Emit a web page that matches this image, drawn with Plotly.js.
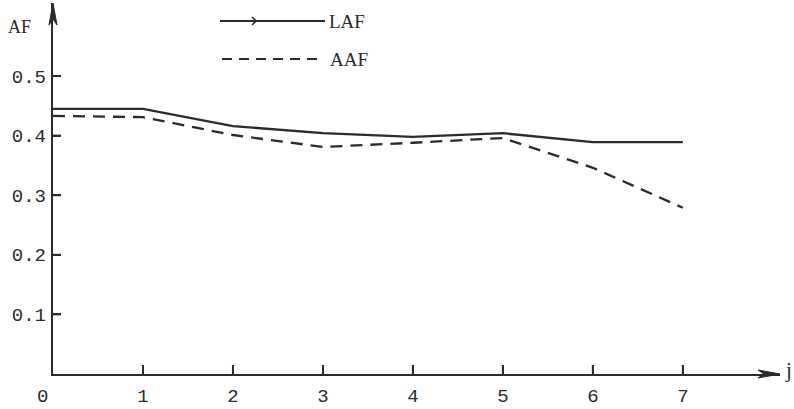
<!DOCTYPE html>
<html>
<head>
<meta charset="utf-8">
<script src="https://cdn.plot.ly/plotly-3.0.1.min.js"></script>
<style>html,body{margin:0;padding:0;background:#fff;}#chart{width:794px;height:409px;}</style>
</head>
<body>
<div id="chart"></div>
<script>
// ---- data ----
const jValues = [0, 1, 2, 3, 4, 5, 6, 7];
const lafValues = [0.445, 0.445, 0.416, 0.404, 0.398, 0.404, 0.389, 0.389];
const aafValues = [0.433, 0.431, 0.401, 0.381, 0.388, 0.396, 0.346, 0.279];
const xTickVals = [1, 2, 3, 4, 5, 6, 7];
const xTickText = ['1', '2', '3', '4', '5', '6', '7'];
const yTickVals = [0.1, 0.2, 0.3, 0.4, 0.5];
const yTickText = ['0.1', '0.2', '0.3', '0.4', '0.5'];
const seriesNames = ['LAF', 'AAF'];
const yAxisLabel = 'AF';
const xAxisLabel = 'j';
const originLabel = '0';

const INK = '#2b2b2b';
const MONO = '"Liberation Mono", "DejaVu Sans Mono", monospace';
const SERIF = '"Liberation Serif", "DejaVu Serif", serif';
const XMAX = 8.08, YMAX = 0.6225;

const traces = [
  {x: jValues, y: lafValues, name: seriesNames[0], mode: 'lines',
   line: {color: INK, width: 2.3}},
  {x: jValues, y: aafValues, name: seriesNames[1], mode: 'lines',
   line: {color: INK, width: 2.3, dash: '12px,8px'}}
];

// decorations positioned in pixels from the plot-area corners (paper refs are not clipped)
function pixPath(ax, ay, path, opts) {
  return Object.assign({type: 'path', xref: 'paper', yref: 'paper', xsizemode: 'pixel', ysizemode: 'pixel',
          xanchor: ax, yanchor: ay, path: path,
          line: {color: INK, width: 2.2}, fillcolor: 'rgba(0,0,0,0)'}, opts || {});
}

// tick marks placed at the tick values through the axes
const xTickShapes = xTickVals.map(v => ({type: 'line', xref: 'x', yref: 'paper', ysizemode: 'pixel',
  yanchor: 0, x0: v, x1: v, y0: 0, y1: 9, line: {color: INK, width: 2}}));
const yTickShapes = yTickVals.map(v => ({type: 'line', xref: 'paper', yref: 'y', xsizemode: 'pixel',
  xanchor: 0, y0: v, y1: v, x0: 0, x1: 8, line: {color: INK, width: 2}}));

const shapes = xTickShapes.concat(yTickShapes, [
  pixPath(1, 0, 'M 0 0 L -22 4 L -16 0 L -22 -4 Z', {line: {color: INK, width: 1}, fillcolor: INK}),
  pixPath(0, 1, 'M 0 0 L -4 -22 L 0 -16 L 4 -22 Z', {line: {color: INK, width: 1}, fillcolor: INK}),
  pixPath(0, 0, 'M 167 353 L 272 353'),
  pixPath(0, 0, 'M 199 357 L 203 353 L 199 349', {line: {color: INK, width: 1.6}}),
  pixPath(0, 0, 'M 169 315 L 267 315', {line: {color: INK, width: 2.2, dash: '10px,7px'}})
]);

const annotations = [
  {x: 0, y: 0, xref: 'x', yref: 'y', text: originLabel, showarrow: false,
   xshift: -11, yshift: -23, font: {family: MONO, size: 19, color: INK}},
  {x: XMAX, y: 0, xref: 'x', yref: 'y', text: xAxisLabel, showarrow: false,
   xanchor: 'left', xshift: 3, yshift: 4, font: {family: SERIF, size: 21, color: INK}},
  {x: 0, y: YMAX, xref: 'x', yref: 'y', text: yAxisLabel, showarrow: false,
   xanchor: 'left', xshift: -47, yshift: -24, font: {family: SERIF, size: 18, color: INK}},
  {x: 0, y: 0, xref: 'x', yref: 'y', text: seriesNames[0], showarrow: false,
   xanchor: 'left', xshift: 274, yshift: 353, font: {family: SERIF, size: 19, color: INK}},
  {x: 0, y: 0, xref: 'x', yref: 'y', text: seriesNames[1], showarrow: false,
   xanchor: 'left', xshift: 275, yshift: 315, font: {family: SERIF, size: 19, color: INK}}
];

const layout = {
  width: 794, height: 409,
  margin: {l: 53, r: 14, t: 3, b: 35},
  paper_bgcolor: '#ffffff', plot_bgcolor: '#ffffff',
  showlegend: false,
  xaxis: {range: [0, XMAX], showgrid: false, zeroline: false, showline: true,
          linecolor: INK, linewidth: 2.2, ticks: 'inside', ticklen: 9, tickwidth: 2, tickcolor: INK,
          tickmode: 'array', tickvals: xTickVals, ticktext: xTickText, ticklabelstandoff: 3,
          tickfont: {family: MONO, size: 19, color: INK}},
  yaxis: {range: [0, YMAX], showgrid: false, zeroline: false, showline: true,
          linecolor: INK, linewidth: 2.2, ticks: 'inside', ticklen: 8, tickwidth: 2, tickcolor: INK,
          tickmode: 'array', tickvals: yTickVals, ticktext: yTickText, ticklabelstandoff: 1,
          tickfont: {family: MONO, size: 19, color: INK}},
  shapes: shapes,
  annotations: annotations
};

Plotly.newPlot('chart', traces, layout, {displayModeBar: false, staticPlot: true});
</script>
</body>
</html>
